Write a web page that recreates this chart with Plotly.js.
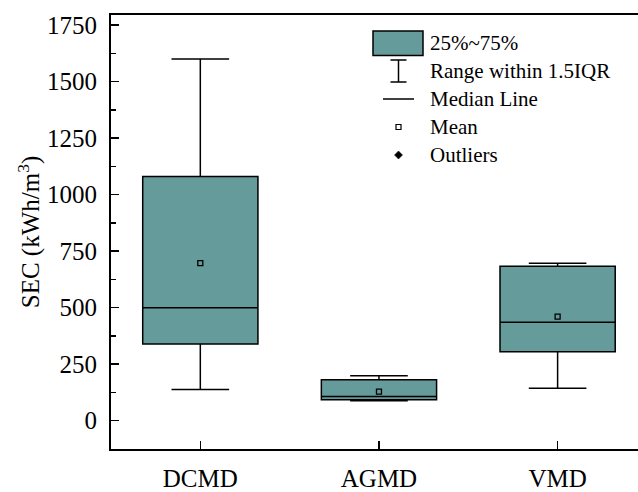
<!DOCTYPE html>
<html>
<head>
<meta charset="utf-8">
<script src="https://cdn.plot.ly/plotly-3.0.1.min.js"></script>
<style>html,body{margin:0;padding:0;background:#fff;}#chart{width:638px;height:492px;}</style>
</head>
<body>
<div id="chart"></div>
<script>
// Data
const categories = ['DCMD', 'AGMD', 'VMD'];
const lowerWhisker = [138, 88, 144];
const q1Values = [339, 93, 305];
const medianValues = [500, 107, 436];
const q3Values = [1080, 181, 683];
const upperWhisker = [1600, 199, 697];
const meanValues = [697, 129, 461];
const yTicks = [0, 250, 500, 750, 1000, 1250, 1500, 1750];
const legendLabels = ['25%~75%', 'Range within 1.5IQR', 'Median Line', 'Mean', 'Outliers'];

const W = 638, H = 492;
const M = {l: 111, r: 0, t: 15, b: 43};
const PW = W - M.l - M.r, PH = H - M.t - M.b;
const FONT = 'Liberation Serif';
const TEAL = 'rgb(102,155,155)';
function px(x) { return (x - M.l) / PW; }
function py(y) { return (H - M.b - y) / PH; }

const boxTrace = {
  type: 'box',
  x: categories,
  q1: q1Values,
  median: medianValues,
  q3: q3Values,
  lowerfence: lowerWhisker,
  upperfence: upperWhisker,
  boxpoints: false,
  width: 0.645,
  whiskerwidth: 0.5,
  fillcolor: TEAL,
  line: {color: '#000', width: 1.5},
  hoverinfo: 'skip',
  showlegend: false
};
const meanTrace = {
  type: 'scatter',
  mode: 'markers',
  x: categories,
  y: meanValues,
  marker: {symbol: 'square-open', size: 5, color: '#000', line: {width: 1.3, color: '#000'}},
  showlegend: false,
  hoverinfo: 'skip'
};

// Custom legend (decoration)
const lx = 398.5;
const rowY = [43, 71, 99, 127, 155];
const shapes = [
  {type: 'rect', xref: 'paper', yref: 'paper', x0: px(373), x1: px(423), y0: py(55.5), y1: py(31),
   fillcolor: TEAL, line: {color: '#000', width: 1.5}},
  {type: 'line', xref: 'paper', yref: 'paper', x0: px(lx), x1: px(lx), y0: py(60), y1: py(82), line: {color: '#000', width: 1.5}},
  {type: 'line', xref: 'paper', yref: 'paper', x0: px(lx - 8), x1: px(lx + 8), y0: py(60), y1: py(60), line: {color: '#000', width: 1.5}},
  {type: 'line', xref: 'paper', yref: 'paper', x0: px(lx - 8), x1: px(lx + 8), y0: py(82), y1: py(82), line: {color: '#000', width: 1.5}},
  {type: 'line', xref: 'paper', yref: 'paper', x0: px(383), x1: px(414), y0: py(rowY[2]), y1: py(rowY[2]), line: {color: '#000', width: 1.5}},
  {type: 'rect', xref: 'paper', yref: 'paper', x0: px(lx - 2.5), x1: px(lx + 2.5), y0: py(rowY[3] + 2.5), y1: py(rowY[3] - 2.5),
   fillcolor: 'rgba(0,0,0,0)', line: {color: '#000', width: 1.2}},
  {type: 'path', xref: 'paper', yref: 'paper',
   path: 'M ' + px(lx) + ' ' + py(rowY[4] - 4) + ' L ' + px(lx + 4) + ' ' + py(rowY[4]) + ' L ' + px(lx) + ' ' + py(rowY[4] + 4) + ' L ' + px(lx - 4) + ' ' + py(rowY[4]) + ' Z',
   fillcolor: '#000', line: {color: '#000', width: 0.5}}
];
const annotations = legendLabels.map((t, i) => ({
  xref: 'paper', yref: 'paper', x: px(428), y: py(rowY[i]), xanchor: 'left', yanchor: 'middle',
  text: t, showarrow: false, font: {family: FONT, size: 21, color: '#000'}
}));

const layout = {
  width: W, height: H,
  margin: M,
  paper_bgcolor: '#fff', plot_bgcolor: '#fff',
  showlegend: false,
  font: {family: FONT, color: '#000'},
  xaxis: {
    type: 'category',
    range: [-0.5, 2.45],
    showline: true, linecolor: '#000', linewidth: 2, mirror: true,
    ticks: 'inside', ticklen: 8, tickwidth: 1.5, tickcolor: '#000',
    showgrid: false, zeroline: false,
    tickfont: {family: FONT, size: 25, color: '#000'},
    ticklabelstandoff: 6
  },
  yaxis: {
    range: [-125, 1795],
    tickvals: yTicks,
    ticktext: yTicks.map(String),
    showline: true, linecolor: '#000', linewidth: 2,
    ticks: 'inside', ticklen: 8, tickwidth: 1.5, tickcolor: '#000',
    minor: {ticks: 'inside', ticklen: 5, tickwidth: 1.5, tickcolor: '#000', dtick: 125, tick0: 125, showgrid: false},
    showgrid: false, zeroline: false,
    tickfont: {family: FONT, size: 25, color: '#000'},
    ticklabelstandoff: 7,
    title: {text: 'SEC (kWh/m<sup>3</sup>)', font: {family: FONT, size: 25, color: '#000'}, standoff: 0}
  },
  shapes: shapes,
  annotations: annotations
};

Plotly.newPlot('chart', [boxTrace, meanTrace], layout, {staticPlot: true, displayModeBar: false});
</script>
</body>
</html>
